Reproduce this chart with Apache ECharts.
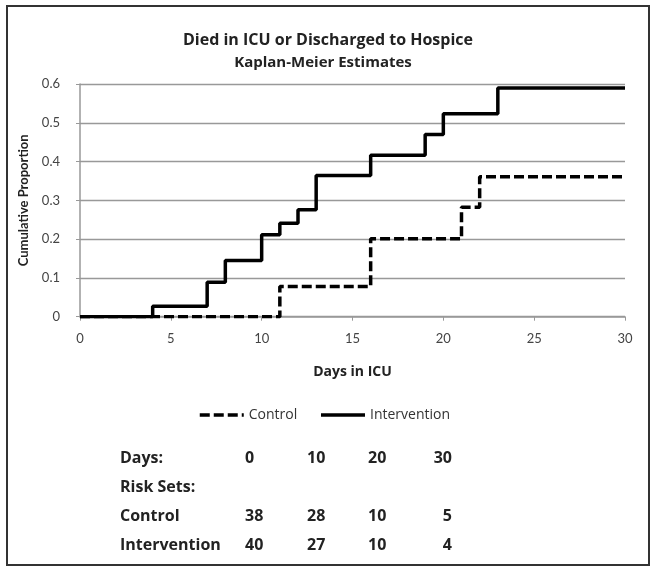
<!DOCTYPE html>
<html>
<head>
<meta charset="utf-8">
<script src="https://cdn.jsdelivr.net/npm/echarts@6/dist/echarts.min.js"></script>
<style>
html,body{margin:0;padding:0;background:#fff;}
#c{width:658px;height:572px;}
</style>
</head>
<body>
<div id="c"></div>
<script>
// Kaplan-Meier step data: [day, cumulative proportion after the event]
var controlSteps = [[0,0],[11,0.078],[16,0.201],[21,0.282],[22,0.361],[30,0.361]];
var interventionSteps = [[0,0],[4,0.027],[7,0.089],[8,0.145],[10,0.211],[11,0.241],[12,0.276],[13,0.364],[16,0.416],[19,0.47],[20,0.523],[23,0.59],[30,0.59]];
var xTicks = [0,5,10,15,20,25,30];
var yTicks = [0,0.1,0.2,0.3,0.4,0.5,0.6];
var riskDays = ['0','10','20','30'];
var riskControl = ['38','28','10','5'];
var riskIntervention = ['40','27','10','4'];
var rowLabels = ['Days:','Risk Sets:','Control','Intervention'];

var FONT = 'Lato, "Open Sans", sans-serif';
var WFONT = '"Open Sans", Lato, sans-serif';
var chart = echarts.init(document.getElementById('c'), null, {renderer:'canvas'});

var tableFont = 'bold 16px ' + WFONT;
var colX = [245, 307, 368, 452];
var colAlign = ['left','left','left','right'];
var rowY = [458, 487, 516, 545];
var graphics = [];
graphics.push({type:'rect', shape:{x:7,y:6,width:642,height:559}, style:{fill:null, stroke:'#333', lineWidth:2}, silent:true});
rowLabels.forEach(function(t,i){
  graphics.push({type:'text', x:120, y:rowY[i], style:{text:t, font:tableFont, fill:'#222', textVerticalAlign:'middle', textAlign:'left'}});
});
var rows = [[riskDays,0],[riskControl,2],[riskIntervention,3]];
rows.forEach(function(r){
  r[0].forEach(function(v,j){
    graphics.push({type:'text', x:colX[j], y:rowY[r[1]], style:{text:v, font:tableFont, fill:'#222', textVerticalAlign:'middle', textAlign:colAlign[j]}});
  });
});

chart.setOption({
  animation:false,
  backgroundColor:'#fff',
  title:[
    {text:'Died in ICU or Discharged to Hospice', left:323, top:27, textAlign:'center',
     textStyle:{fontFamily:WFONT, fontSize:16, fontWeight:'bold', color:'#222'}},
    {text:'Kaplan-Meier Estimates', left:318, top:50, textAlign:'center',
     textStyle:{fontFamily:WFONT, fontSize:15, fontWeight:'bold', color:'#222'}}
  ],
  grid:{left:80, right:33, top:84, height:232.7, containLabel:false},
  legend:{
    data:[
      {name:'Control', lineStyle:{color:'#000', width:3.5, type:[10,4]}},
      {name:'Intervention', lineStyle:{color:'#000', width:3.5, type:'solid'}}
    ],
    left:193, top:403, itemWidth:44, itemHeight:10, itemGap:22,
    itemStyle:{opacity:0},
    textStyle:{fontFamily:WFONT, fontSize:14, color:'#333'},
    selectedMode:false
  },
  xAxis:{
    type:'value', min:0, max:30, interval:5,
    name:'Days in ICU', nameLocation:'middle', nameGap:48,
    nameTextStyle:{fontFamily:WFONT, fontSize:14, fontWeight:'bold', color:'#222'},
    axisLine:{show:true, lineStyle:{color:'#999', width:1.5}},
    axisTick:{show:true, length:4, lineStyle:{color:'#999'}},
    axisLabel:{fontFamily:FONT, fontSize:13, color:'#444', margin:16},
    splitLine:{show:false}
  },
  yAxis:{
    type:'value', min:0, max:0.6, interval:0.1,
    name:'Cumulative Proportion', nameLocation:'middle', nameGap:50,
    nameTextStyle:{fontFamily:FONT, fontSize:13, fontWeight:'bold', color:'#222'},
    axisLine:{show:true, lineStyle:{color:'#999', width:1.5}},
    axisTick:{show:true, length:4, lineStyle:{color:'#999'}},
    axisLabel:{fontFamily:FONT, fontSize:13, color:'#444', margin:20,
      formatter:function(v){ return v===0 ? '0' : v.toFixed(1); }},
    splitLine:{show:true, lineStyle:{color:'#999', width:1.3}}
  },
  series:[
    {name:'Control', type:'line', step:'end', data:controlSteps, symbol:'none', showSymbol:false,
     lineStyle:{color:'#000', width:3.5, type:[10,4]}, itemStyle:{color:'#000'}, z:2},
    {name:'Intervention', type:'line', step:'end', data:interventionSteps, symbol:'none', showSymbol:false,
     lineStyle:{color:'#000', width:3.5, type:'solid'}, itemStyle:{color:'#000'}, z:3}
  ],
  graphic:graphics
});
</script>
</body>
</html>
